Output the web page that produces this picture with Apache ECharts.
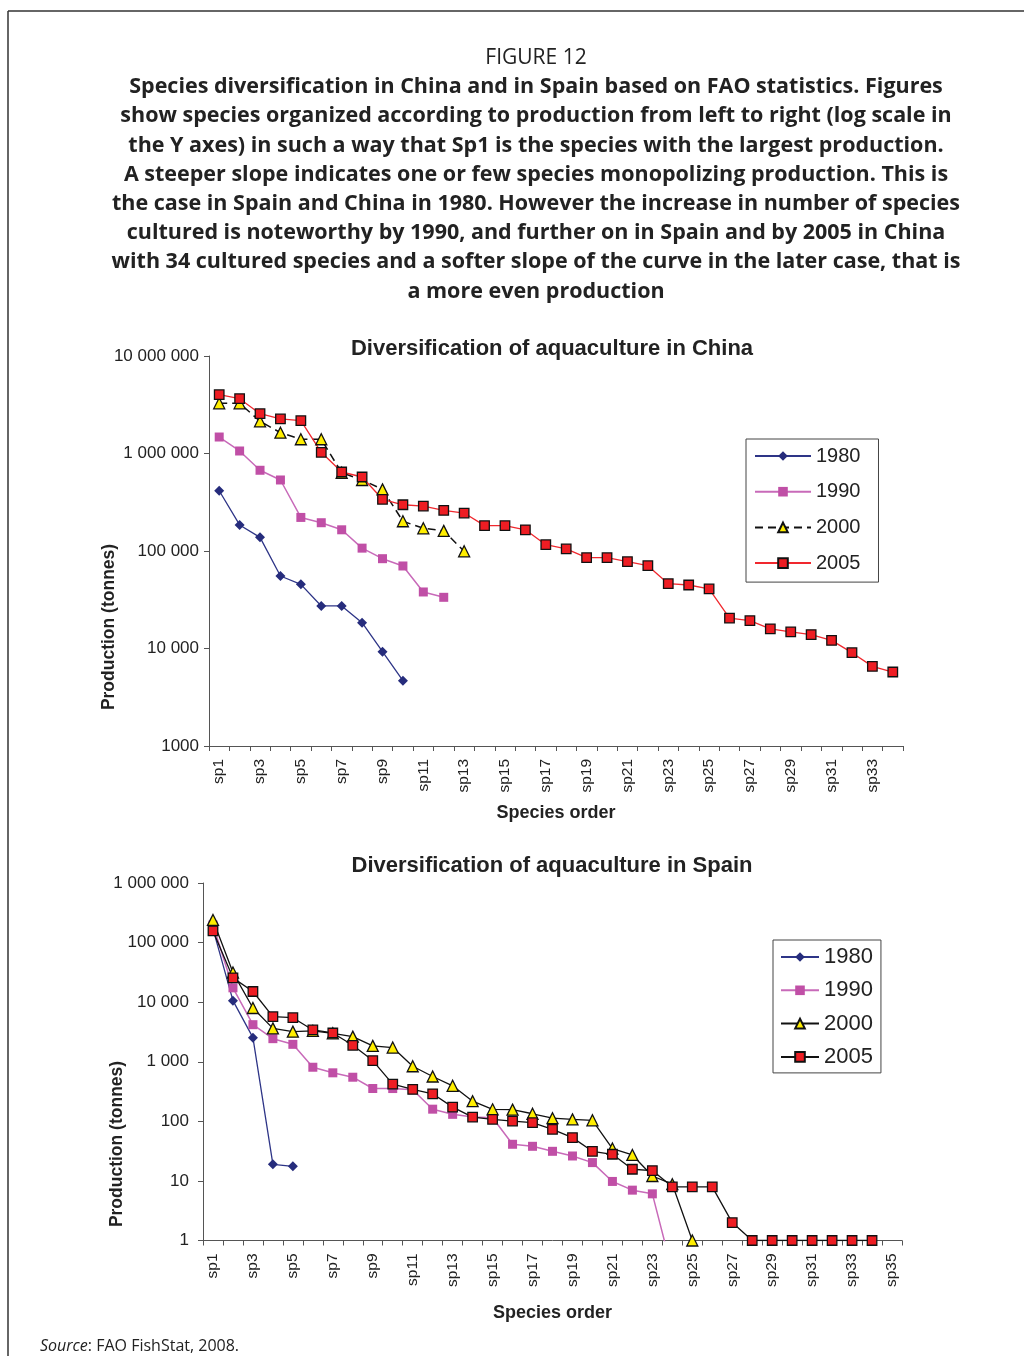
<!DOCTYPE html>
<html>
<head>
<meta charset="utf-8">
<script src="https://cdn.jsdelivr.net/npm/echarts@6/dist/echarts.min.js"></script>
<style>
html,body{margin:0;padding:0;background:#fff;}
#chart{width:1024px;height:1356px;}
</style>
</head>
<body>
<div id="chart"></div>
<script>
// ---------------- DATA ----------------
const chinaCategories = ['sp1','sp2','sp3','sp4','sp5','sp6','sp7','sp8','sp9','sp10','sp11','sp12','sp13','sp14','sp15','sp16','sp17','sp18','sp19','sp20','sp21','sp22','sp23','sp24','sp25','sp26','sp27','sp28','sp29','sp30','sp31','sp32','sp33','sp34'];
const china1980 = [415000, 185000, 138000, 55400, 45500, 27300, 27300, 18400, 9270, 4670];
const china1990 = [1476000, 1061000, 673000, 535000, 221000, 195000, 165000, 107000, 83400, 70200, 38000, 33500];
const china2000 = [3270000, 3270000, 2140000, 1635000, 1400000, 1400000, 635000, 535000, 429000, 202000, 171000, 161000, 99300];
const china2005 = [4010000, 3650000, 2560000, 2260000, 2170000, 1028000, 646000, 574000, 339000, 298000, 289000, 261000, 245000, 182000, 182000, 165000, 116000, 105000, 85400, 85400, 77700, 70700, 46200, 44800, 40800, 20500, 19300, 15900, 14800, 13900, 12100, 9060, 6560, 5740];

const spainCategories = ['sp1','sp2','sp3','sp4','sp5','sp6','sp7','sp8','sp9','sp10','sp11','sp12','sp13','sp14','sp15','sp16','sp17','sp18','sp19','sp20','sp21','sp22','sp23','sp24','sp25','sp26','sp27','sp28','sp29','sp30','sp31','sp32','sp33','sp34','sp35'];
const spain1980 = [170000, 10600, 2540, 19, 17.6];
const spain1990 = [197000, 17400, 4190, 2440, 1960, 809, 652, 550, 356, 355, 339, 160, 131, 118, 115, 41.2, 38.1, 31.4, 26.2, 20.3, 9.8, 7.0, 6.07, 0.3];
const spain2000 = [240000, 31400, 7980, 3630, 3200, 3300, 3000, 2640, 1845, 1730, 841, 565, 395, 218, 159, 157, 134, 113, 108, 104, 34.9, 27.3, 12.1, 8.8, 1];
const spain2005 = [157000, 25600, 15100, 5700, 5490, 3420, 3040, 1888, 1047, 420, 343, 290, 173, 118, 108, 101, 95, 73.4, 53.3, 31.4, 28.0, 15.7, 14.9, 7.95, 7.95, 7.95, 2, 1, 1, 1, 1, 1, 1, 1];

const seriesYears = ['1980', '1990', '2000', '2005'];

const chinaTickValues = [1000, 10000, 100000, 1000000, 10000000];
const chinaTickLabels = ['1000', '10 000', '100 000', '1 000 000', '10 000 000'];
const spainTickValues = [1, 10, 100, 1000, 10000, 100000, 1000000];
const spainTickLabels = ['1', '10', '100', '1 000', '10 000', '100 000', '1 000 000'];

const captionTitle = 'FIGURE 12';
const captionLines = [
  'Species diversification in China and in Spain based on FAO statistics. Figures',
  'show species organized according to production from left to right (log scale in',
  'the Y axes) in such a way that Sp1 is the species with the largest production.',
  'A steeper slope indicates one or few species monopolizing production. This is',
  'the case in Spain and China in 1980. However the increase in number of species',
  'cultured is noteworthy by 1990, and further on in Spain and by 2005 in China',
  'with 34 cultured species and a softer slope of the curve in the later case, that is',
  'a more even production'
];
const chinaTitle = 'Diversification of aquaculture in China';
const spainTitle = 'Diversification of aquaculture in Spain';
const yName = 'Production (tonnes)';
const xName = 'Species order';

// ---------------- CHART ----------------
const FONT = "'Liberation Sans', Arial, sans-serif";
const CAPFONT = "'Open Sans', 'Noto Sans', sans-serif";
const chart = echarts.init(document.getElementById('chart'), null, {renderer: 'canvas'});

function tickFormatter(values, labels) {
  return function (v) {
    const e = Math.round(Math.log10(v));
    const i = values.indexOf(Math.pow(10, e));
    return i >= 0 ? labels[i] : '';
  };
}

function xAxisDef(grid, cats, gap) {
  return {
    type: 'category', gridIndex: grid, data: cats, boundaryGap: true,
    axisLine: {show: true, lineStyle: {color: '#555', width: 1}},
    axisTick: {show: true, interval: 0, length: 5, lineStyle: {color: '#555'}},
    axisLabel: {interval: 1, rotate: 90, color: '#222', fontSize: 15.5, fontFamily: FONT, margin: 13},
    splitLine: {show: false},
    name: xName, nameLocation: 'middle', nameGap: gap,
    nameTextStyle: {fontWeight: 'bold', fontSize: 18, color: '#222', fontFamily: FONT}
  };
}
function yAxisDef(grid, min, max, vals, labels, margin) {
  return {
    type: 'log', logBase: 10, gridIndex: grid, min: min, max: max,
    axisLine: {show: true, lineStyle: {color: '#555', width: 1}},
    axisTick: {show: true, length: 5, lineStyle: {color: '#555'}},
    axisLabel: {color: '#222', fontSize: 17, fontFamily: FONT, margin: margin, formatter: tickFormatter(vals, labels)},
    splitLine: {show: false},
    minorTick: {show: false}
  };
}

const styles = {
  '1980': {symbol: 'diamond', symbolSize: 10, itemStyle: {color: '#262C7C'}, lineStyle: {color: '#2E3587', width: 1.3}},
  '1990': {symbol: 'rect', symbolSize: 9, itemStyle: {color: '#C04FA6'}, lineStyle: {color: '#C86AB9', width: 1.5}},
  '2000': {symbol: 'triangle', symbolSize: 11, itemStyle: {color: '#FFEE00', borderColor: '#111', borderWidth: 1.3}, lineStyle: {color: '#111', width: 1.5}},
  '2005': {symbol: 'rect', symbolSize: 9.5, itemStyle: {color: '#EE1D23', borderColor: '#111', borderWidth: 1.3}, lineStyle: {color: '#F0282E', width: 1.3}}
};

function mkSeries(prefix, grid, year, data, lineOverride) {
  const s = styles[year];
  return {
    name: prefix + ' ' + year, type: 'line', xAxisIndex: grid, yAxisIndex: grid,
    data: data, symbol: s.symbol, symbolSize: s.symbolSize, showSymbol: true,
    itemStyle: Object.assign({}, s.itemStyle),
    lineStyle: Object.assign({}, s.lineStyle, lineOverride || {}),
    clip: true, animation: false, emphasis: {disabled: true}
  };
}

const chinaData = [china1980, china1990, china2000, china2005];
const spainData = [spain1980, spain1990, spain2000, spain2005];

const series = [];
seriesYears.forEach((y, i) => {
  let ov = null;
  if (y === '2000') ov = {type: [8, 5]};
  series.push(mkSeries('China', 0, y, chinaData[i], ov));
});
seriesYears.forEach((y, i) => {
  let ov = null;
  if (y === '2000' || y === '2005') ov = {color: '#111', type: 'solid', width: 1.3};
  series.push(mkSeries('Spain', 1, y, spainData[i], ov));
});

const graphics = [
  {type: 'line', shape: {x1: 8, y1: 11, x2: 1024, y2: 11}, style: {stroke: '#333', lineWidth: 1.5}, silent: true},
  {type: 'line', shape: {x1: 8, y1: 11, x2: 8, y2: 1356}, style: {stroke: '#333', lineWidth: 1.5}, silent: true},
  {type: 'text', x: 536, y: 58, style: {text: captionTitle, font: '21px ' + CAPFONT, fill: '#222', textAlign: 'center', textVerticalAlign: 'middle'}},
  {type: 'text', x: 552, y: 349, style: {text: chinaTitle, font: 'bold 22px ' + FONT, fill: '#222', textAlign: 'center', textVerticalAlign: 'middle'}},
  {type: 'text', x: 552, y: 866, style: {text: spainTitle, font: 'bold 22px ' + FONT, fill: '#222', textAlign: 'center', textVerticalAlign: 'middle'}},
  {type: 'text', x: 109, y: 627, rotation: Math.PI / 2, style: {text: yName, font: 'bold 17.5px ' + FONT, fill: '#222', textAlign: 'center', textVerticalAlign: 'middle'}},
  {type: 'text', x: 117, y: 1144, rotation: Math.PI / 2, style: {text: yName, font: 'bold 17.5px ' + FONT, fill: '#222', textAlign: 'center', textVerticalAlign: 'middle'}},
  {type: 'text', x: 40, y: 1346, style: {
    text: '{i|Source}: FAO FishStat, 2008.', font: '16px ' + CAPFONT, fill: '#222', textVerticalAlign: 'middle',
    rich: {i: {fontStyle: 'italic', fontSize: 16, fontFamily: CAPFONT, fill: '#222'}}
  }}
];
captionLines.forEach((t, i) => {
  graphics.push({type: 'text', x: 536, y: 87 + i * 29.2, style: {text: t, font: 'bold 21.5px ' + CAPFONT, fill: '#222', textAlign: 'center', textVerticalAlign: 'middle'}});
});

const stripName = n => n.split(' ')[1];

chart.setOption({
  animation: false,
  backgroundColor: '#fff',
  grid: [
    {left: 209, top: 356, width: 694, height: 390, containLabel: false},
    {left: 203, top: 883, width: 699, height: 357.5, containLabel: false}
  ],
  xAxis: [xAxisDef(0, chinaCategories, 58), xAxisDef(1, spainCategories, 64)],
  yAxis: [
    yAxisDef(0, 1000, 10000000, chinaTickValues, chinaTickLabels, 10),
    yAxisDef(1, 1, 1000000, spainTickValues, spainTickLabels, 14)
  ],
  legend: [
    {
      orient: 'vertical', left: 746, top: 439,
      data: seriesYears.map(y => 'China ' + y), formatter: stripName,
      itemWidth: 56, itemHeight: 12, itemGap: 15.7,
      padding: [7, 18, 9, 8], borderColor: '#444', borderWidth: 1, selectedMode: false,
      textStyle: {fontSize: 20, color: '#222', fontFamily: FONT}
    },
    {
      orient: 'vertical', left: 773, top: 940,
      data: seriesYears.map(y => 'Spain ' + y), formatter: stripName,
      itemWidth: 38, itemHeight: 12, itemGap: 11.3,
      padding: [6, 8, 5, 7], borderColor: '#444', borderWidth: 1, selectedMode: false,
      textStyle: {fontSize: 22, color: '#222', fontFamily: FONT}
    }
  ],
  graphic: graphics,
  series: series
});
</script>
</body>
</html>
